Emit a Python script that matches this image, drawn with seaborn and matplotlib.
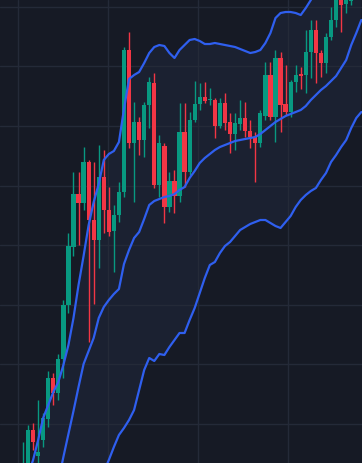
import numpy as np
import pandas as pd
import matplotlib
matplotlib.use("Agg")
import matplotlib.pyplot as plt
import seaborn as sns

# ---- OHLC data (one candle per period) ----
open_ = [1.5, 2.5, 7.0, 4.4, 6.0, 8.1, 12.2, 10.7, 14.1, 19.5,
         25.3, 30.6, 29.7, 33.8, 28.0, 26.0, 32.3, 29.0, 26.9, 28.5,
         30.8, 45.0, 35.7, 37.8, 36.0, 39.5, 41.7, 31.5, 35.4, 29.3,
         31.9, 30.4, 36.8, 32.8, 38.0, 39.6, 40.3, 39.95, 40.0, 37.4,
         39.7, 37.8, 36.6, 37.6, 38.2, 36.9, 36.3, 35.7, 38.4, 42.5,
         38.3, 44.2, 39.6, 38.8, 41.8, 42.6, 42.5, 44.8, 47.0, 44.7,
         43.7, 46.3, 48.0, 50.3, 49.6, 49.9]
close = [3.4, 7.0, 5.8, 4.8, 8.2, 12.2, 10.7, 14.1, 19.5, 25.4,
         30.6, 29.7, 33.8, 28.0, 26.0, 32.3, 29.0, 26.8, 28.5, 30.8,
         45.0, 35.7, 37.8, 36.0, 39.5, 41.8, 31.5, 35.7, 29.3, 31.9,
         30.4, 36.8, 32.8, 38.0, 39.6, 40.3, 39.9, 40.05, 37.4, 39.7,
         37.7, 36.6, 37.7, 38.2, 36.9, 36.3, 35.7, 38.7, 42.5, 38.3,
         44.2, 39.5, 38.8, 41.8, 42.5, 42.4, 44.8, 47.0, 44.7, 43.7,
         46.3, 48.0, 50.5, 49.5, 50.2, 50.3]
high = [5.8, 7.5, 7.7, 10.0, 8.7, 12.9, 12.7, 14.6, 20.0, 26.7,
        32.8, 32.8, 35.3, 34.0, 33.8, 35.5, 35.0, 31.3, 29.5, 31.8,
        45.3, 46.8, 39.8, 38.3, 39.8, 42.3, 42.7, 36.5, 35.7, 32.8,
        33.0, 39.7, 39.7, 38.8, 41.9, 41.7, 41.8, 41.2, 40.2, 40.2,
        40.7, 38.7, 38.7, 40.0, 39.8, 38.0, 36.8, 39.0, 43.8, 43.8,
        45.0, 44.8, 43.5, 42.0, 43.5, 43.3, 47.0, 48.0, 48.0, 45.0,
        46.7, 49.3, 51.0, 51.0, 50.8, 50.8]
low = [1.0, 2.2, 5.0, 3.0, 5.3, 7.3, 9.5, 10.0, 12.2, 18.7,
       24.4, 25.5, 29.0, 15.8, 19.6, 23.2, 26.7, 26.4, 22.8, 27.8,
       30.3, 35.2, 29.8, 34.5, 34.3, 37.2, 31.2, 30.3, 27.7, 28.8,
       28.7, 29.8, 31.3, 32.5, 37.8, 39.0, 39.7, 39.5, 36.2, 37.2,
       37.0, 34.7, 35.0, 37.0, 36.3, 35.2, 31.8, 35.3, 38.0, 38.0,
       35.8, 36.8, 38.5, 38.3, 40.8, 41.1, 40.7, 42.2, 41.7, 42.3,
       42.7, 46.0, 47.3, 46.8, 48.7, 49.5]

# ---- Band lines (extend two periods past the last candle) ----
upper = [-2.0, 2.5, 4.0, 6.0, 8.2, 9.5, 10.8, 11.8, 13.5, 15.5,
         18.2, 21.5, 24.4, 27.5, 29.8, 31.6, 34.0, 34.6, 34.9, 35.8,
         39.1, 42.1, 42.5, 42.8, 43.7, 44.7, 45.3, 45.5, 45.4, 44.7,
         44.2, 45.0, 45.5, 46.0, 46.1, 45.9, 45.6, 45.6, 45.7, 45.6,
         45.5, 45.4, 45.3, 45.1, 44.9, 44.7, 44.8, 45.0, 45.7, 46.7,
         48.2, 48.7, 48.8, 48.8, 48.7, 48.5, 49.2, 50.0, 50.8, 51.2,
         51.4, 51.8, 52.2, 52.5, 52.7, 52.8, 52.9, 53.0]
middle = [-14.4, -12.1, -9.7, -7.4, -5.1, -2.7, -0.4, 1.9, 4.3, 6.6,
          8.9, 11.3, 13.6, 14.9, 16.2, 18.2, 19.3, 20.0, 20.6, 21.1,
          23.6, 25.0, 26.2, 26.8, 28.1, 29.5, 29.9, 30.1, 30.3, 30.4,
          30.6, 31.0, 31.3, 32.2, 32.9, 33.7, 34.2, 34.6, 35.0, 35.3,
          35.5, 35.7, 35.9, 36.0, 36.1, 36.2, 36.3, 36.6, 37.0, 37.4,
          37.8, 38.1, 38.4, 38.6, 38.8, 39.0, 39.4, 40.0, 40.5, 41.0,
          41.4, 41.9, 42.4, 43.2, 44.0, 45.5, 46.7, 48.0]
lower = [-16.4, -15.2, -14.0, -12.8, -11.6, -10.4, -9.2, -8.0, -6.8, -5.6,
         -4.4, -3.2, -2.0, -0.8, 0.4, 1.6, 2.8, 4.0, 5.3, 6.5,
         7.2, 8.0, 9.0, 11.0, 13.0, 14.2, 13.9, 14.6, 14.5, 15.3,
         16.0, 16.7, 16.7, 18.0, 19.2, 20.7, 22.2, 23.5, 23.8, 24.7,
         25.4, 25.8, 26.4, 27.0, 27.3, 27.6, 27.8, 28.0, 28.0, 27.7,
         27.4, 27.2, 27.8, 28.4, 29.3, 30.0, 30.5, 30.9, 31.2, 32.0,
         32.7, 33.8, 34.5, 35.3, 36.0, 37.2, 38.2, 38.8]

# ---- style ----
BG = "#161a25"
FILL = "#1b2131"
GRID = "#242a38"
UP = "#089981"
DOWN = "#f23645"
BAND = "#2f5fef"

sns.set_theme(style="dark")
fig = plt.figure(figsize=(3.62, 4.63), dpi=100)
fig.patch.set_facecolor(BG)
ax = fig.add_axes([0, 0, 1, 1])
ax.set_facecolor(BG)

bidx = np.arange(len(upper))
ax.fill_between(bidx, lower, upper, color=FILL, lw=0, zorder=0.5)

o = np.array(open_)
c = np.array(close)
h = np.array(high)
l = np.array(low)
idx = np.arange(len(o))
cols = np.where(c >= o, UP, DOWN)

ax.vlines(idx, l, h, colors=cols, lw=1.0, zorder=2)
heights = np.maximum(np.abs(c - o), 0.12)
ax.bar(idx, heights, bottom=np.minimum(o, c), width=0.84, color=cols,
       linewidth=0, zorder=2.5)

bands = pd.DataFrame({
    "i": np.concatenate([bidx, bidx, bidx]),
    "v": upper + middle + lower,
    "band": ["upper"] * len(upper) + ["middle"] * len(middle) + ["lower"] * len(lower),
})
sns.lineplot(data=bands, x="i", y="v", hue="band", units="band", estimator=None,
             palette={"upper": BAND, "middle": BAND, "lower": BAND},
             legend=False, lw=1.6, ax=ax, zorder=3)

ax.set_xlim(-4.55, 67.13)
ax.set_ylim(3.7, 50.0)
ax.set_xticks(np.arange(-1.0, 60, 17.85))
ax.set_yticks(7.6 + 5.96 * np.arange(8))
ax.grid(True, color=GRID, lw=1.0)
ax.set_axisbelow(True)
ax.tick_params(labelleft=False, labelbottom=False, length=0)
ax.set_xlabel("")
ax.set_ylabel("")
for s in ax.spines.values():
    s.set_visible(False)

fig.savefig("out.png", dpi=100, facecolor=BG)
